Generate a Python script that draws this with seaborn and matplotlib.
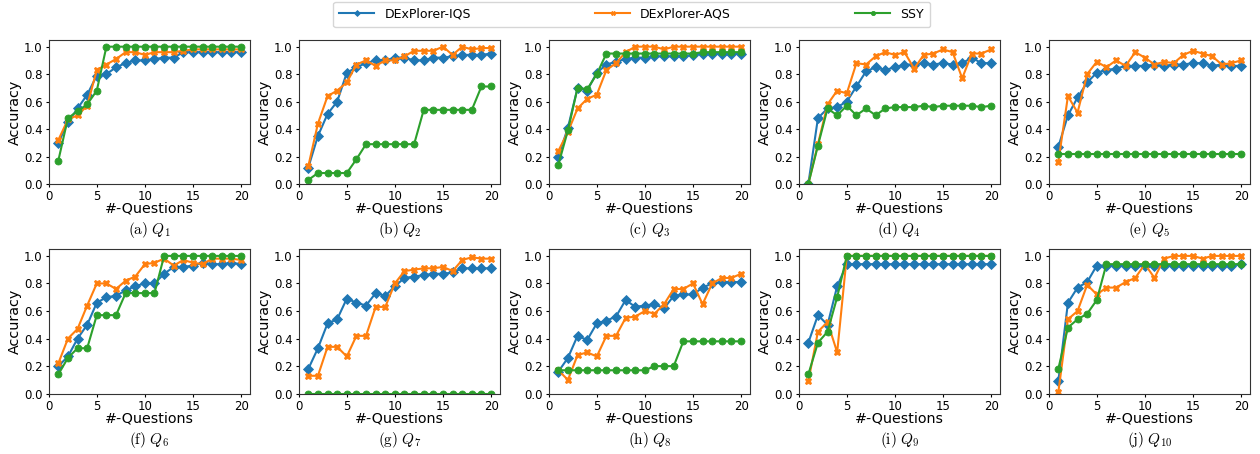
import matplotlib
matplotlib.use("Agg")
import matplotlib.pyplot as plt
import seaborn as sns
import numpy as np

x = list(range(1, 21))
panels = ["(a)", "(b)", "(c)", "(d)", "(e)", "(f)", "(g)", "(h)", "(i)", "(j)"]
qnames = ["Q_1", "Q_2", "Q_3", "Q_4", "Q_5", "Q_6", "Q_7", "Q_8", "Q_9", "Q_{10}"]

iqs = [
    [0.30, 0.45, 0.55, 0.65, 0.79, 0.80, 0.85, 0.88, 0.90, 0.90, 0.91, 0.92, 0.92, 0.96, 0.96, 0.96, 0.96, 0.96, 0.96, 0.96],
    [0.12, 0.35, 0.51, 0.60, 0.81, 0.85, 0.88, 0.90, 0.90, 0.92, 0.92, 0.90, 0.90, 0.92, 0.92, 0.93, 0.94, 0.94, 0.94, 0.95],
    [0.20, 0.41, 0.70, 0.68, 0.81, 0.87, 0.89, 0.91, 0.92, 0.92, 0.93, 0.93, 0.93, 0.93, 0.94, 0.95, 0.95, 0.95, 0.95, 0.95],
    [0.00, 0.48, 0.55, 0.56, 0.60, 0.71, 0.82, 0.85, 0.83, 0.85, 0.87, 0.87, 0.88, 0.87, 0.88, 0.87, 0.88, 0.92, 0.88, 0.88],
    [0.27, 0.50, 0.63, 0.74, 0.81, 0.83, 0.84, 0.86, 0.86, 0.86, 0.87, 0.86, 0.87, 0.87, 0.88, 0.88, 0.86, 0.87, 0.86, 0.86],
    [0.20, 0.27, 0.40, 0.50, 0.66, 0.70, 0.71, 0.75, 0.78, 0.80, 0.80, 0.87, 0.92, 0.92, 0.93, 0.95, 0.94, 0.94, 0.95, 0.94],
    [0.18, 0.33, 0.51, 0.54, 0.69, 0.66, 0.64, 0.73, 0.71, 0.78, 0.84, 0.85, 0.86, 0.87, 0.87, 0.88, 0.91, 0.91, 0.91, 0.91],
    [0.16, 0.26, 0.42, 0.39, 0.51, 0.53, 0.56, 0.68, 0.63, 0.64, 0.65, 0.62, 0.71, 0.72, 0.72, 0.77, 0.80, 0.81, 0.81, 0.81],
    [0.37, 0.57, 0.50, 0.78, 0.94, 0.94, 0.94, 0.94, 0.94, 0.94, 0.94, 0.94, 0.94, 0.94, 0.94, 0.94, 0.94, 0.94, 0.94, 0.94],
    [0.09, 0.66, 0.77, 0.81, 0.93, 0.93, 0.93, 0.93, 0.93, 0.93, 0.93, 0.93, 0.93, 0.93, 0.93, 0.93, 0.93, 0.93, 0.93, 0.94],
]
aqs = [
    [0.32, 0.47, 0.50, 0.57, 0.83, 0.87, 0.91, 0.96, 0.96, 0.94, 0.96, 0.96, 0.96, 0.97, 0.98, 0.98, 0.98, 0.98, 0.98, 0.98],
    [0.13, 0.44, 0.64, 0.68, 0.74, 0.87, 0.90, 0.86, 0.90, 0.90, 0.93, 0.97, 0.97, 0.97, 1.00, 0.94, 1.00, 0.98, 0.99, 0.99],
    [0.24, 0.38, 0.55, 0.62, 0.65, 0.83, 0.88, 0.96, 1.00, 1.00, 1.00, 0.98, 1.00, 1.00, 1.00, 1.00, 1.00, 1.00, 1.00, 1.00],
    [0.00, 0.29, 0.58, 0.68, 0.66, 0.88, 0.87, 0.93, 0.96, 0.94, 0.96, 0.84, 0.94, 0.95, 0.98, 0.96, 0.77, 0.95, 0.95, 0.98],
    [0.16, 0.64, 0.52, 0.80, 0.89, 0.85, 0.90, 0.86, 0.96, 0.92, 0.87, 0.89, 0.88, 0.94, 0.97, 0.95, 0.93, 0.87, 0.88, 0.90],
    [0.22, 0.40, 0.47, 0.64, 0.80, 0.80, 0.76, 0.82, 0.85, 0.94, 0.95, 0.98, 0.93, 0.97, 0.95, 0.94, 0.98, 0.98, 0.98, 0.97],
    [0.13, 0.13, 0.34, 0.34, 0.27, 0.42, 0.42, 0.63, 0.63, 0.80, 0.89, 0.90, 0.91, 0.91, 0.92, 0.89, 0.97, 0.99, 0.98, 0.98],
    [0.17, 0.10, 0.28, 0.30, 0.27, 0.42, 0.42, 0.55, 0.56, 0.60, 0.58, 0.65, 0.76, 0.76, 0.80, 0.65, 0.80, 0.84, 0.84, 0.87],
    [0.09, 0.45, 0.52, 0.30, 1.00, 1.00, 1.00, 1.00, 1.00, 1.00, 1.00, 1.00, 1.00, 1.00, 1.00, 1.00, 1.00, 1.00, 1.00, 1.00],
    [0.01, 0.54, 0.60, 0.79, 0.72, 0.77, 0.77, 0.81, 0.84, 0.94, 0.84, 0.98, 1.00, 1.00, 1.00, 0.98, 1.00, 1.00, 1.00, 1.00],
]
ssy = [
    [0.17, 0.48, 0.53, 0.58, 0.68, 1.00, 1.00, 1.00, 1.00, 1.00, 1.00, 1.00, 1.00, 1.00, 1.00, 1.00, 1.00, 1.00, 1.00, 1.00],
    [0.03, 0.08, 0.08, 0.08, 0.08, 0.18, 0.29, 0.29, 0.29, 0.29, 0.29, 0.29, 0.54, 0.54, 0.54, 0.54, 0.54, 0.54, 0.71, 0.71],
    [0.14, 0.39, 0.70, 0.69, 0.80, 0.95, 0.95, 0.95, 0.95, 0.95, 0.95, 0.95, 0.95, 0.95, 0.95, 0.96, 0.96, 0.96, 0.96, 0.96],
    [0.00, 0.28, 0.55, 0.50, 0.57, 0.50, 0.55, 0.50, 0.55, 0.56, 0.56, 0.56, 0.57, 0.56, 0.57, 0.57, 0.57, 0.57, 0.56, 0.57],
    [0.22] * 20,
    [0.14, 0.26, 0.33, 0.33, 0.57, 0.57, 0.57, 0.73, 0.73, 0.73, 0.73, 1.00, 1.00, 1.00, 1.00, 1.00, 1.00, 1.00, 1.00, 1.00],
    [0.00] * 20,
    [0.17, 0.17, 0.17, 0.17, 0.17, 0.17, 0.17, 0.17, 0.17, 0.17, 0.20, 0.20, 0.20, 0.38, 0.38, 0.38, 0.38, 0.38, 0.38, 0.38],
    [0.14, 0.37, 0.45, 0.70, 1.00, 1.00, 1.00, 1.00, 1.00, 1.00, 1.00, 1.00, 1.00, 1.00, 1.00, 1.00, 1.00, 1.00, 1.00, 1.00],
    [0.18, 0.48, 0.54, 0.58, 0.68, 0.94, 0.94, 0.94, 0.94, 0.94, 0.94, 0.94, 0.94, 0.94, 0.94, 0.94, 0.94, 0.94, 0.94, 0.94],
]

series_names = ["DExPlorer-IQS", "DExPlorer-AQS", "SSY"]
colors = ["#1f77b4", "#ff7f0e", "#2ca02c"]
markers = ["D", "X", "o"]

plt.rcParams["mathtext.fontset"] = "cm"
plt.rcParams["font.family"] = ["DejaVu Sans"]

W, H = 1260, 454
fig = plt.figure(figsize=(W / 100, H / 100), dpi=100)

lefts = [48.7, 298.7, 548.7, 798.7, 1048.7]
aw = 201.5
rows = [(39.8, 184.0), (249.0, 393.7)]
cap_off = 46.5

handles = None
for i in range(10):
    r, c = divmod(i, 5)
    top, bot = rows[r]
    ah = bot - top
    ax = fig.add_axes([lefts[c] / W, 1 - bot / H, aw / W, ah / H])
    for data, name, col, mk in zip([iqs[i], aqs[i], ssy[i]], series_names, colors, markers):
        sns.lineplot(x=x, y=data, ax=ax, color=col, marker=mk, markersize=5,
                     markeredgewidth=0.6, markeredgecolor=col, linewidth=1.5, label=name)
    ax.set_ylim(0, 1.05)
    ax.set_xlim(0.05, 20.95)
    ax.set_xticks([0, 5, 10, 15, 20])
    ax.set_yticks([0.0, 0.2, 0.4, 0.6, 0.8, 1.0])
    ax.tick_params(labelsize=8.5, length=2, pad=2.3)
    ax.set_xlabel("#-Questions", fontsize=10.3, va="top")
    ax.set_ylabel("Accuracy", fontsize=10.3, va="center")
    ax.xaxis.set_label_coords(0.5, -17.5 / ah)
    ax.yaxis.set_label_coords(-34.0 / aw, 0.5)
    for s in ax.spines.values():
        s.set_color("#333333")
    if i == 0:
        handles, labels = ax.get_legend_handles_labels()
    ax.get_legend().remove()
    fig.text((lefts[c] + aw / 2) / W, 1 - (bot + cap_off) / H,
             r"$\mathrm{" + panels[i] + r"}\ " + qnames[i] + "$",
             ha="center", va="center", fontsize=11)

leg = fig.legend(handles, series_names, loc="lower left", ncol=3, mode="expand",
                 bbox_to_anchor=(333 / W, 1 - 27 / H, 597 / W, 25 / H),
                 fontsize=9, frameon=True, handlelength=2.8, markerscale=0.6,
                 borderaxespad=0, borderpad=0.5)
leg.get_frame().set_edgecolor("#cccccc")

fig.savefig("out.png", dpi=100)
